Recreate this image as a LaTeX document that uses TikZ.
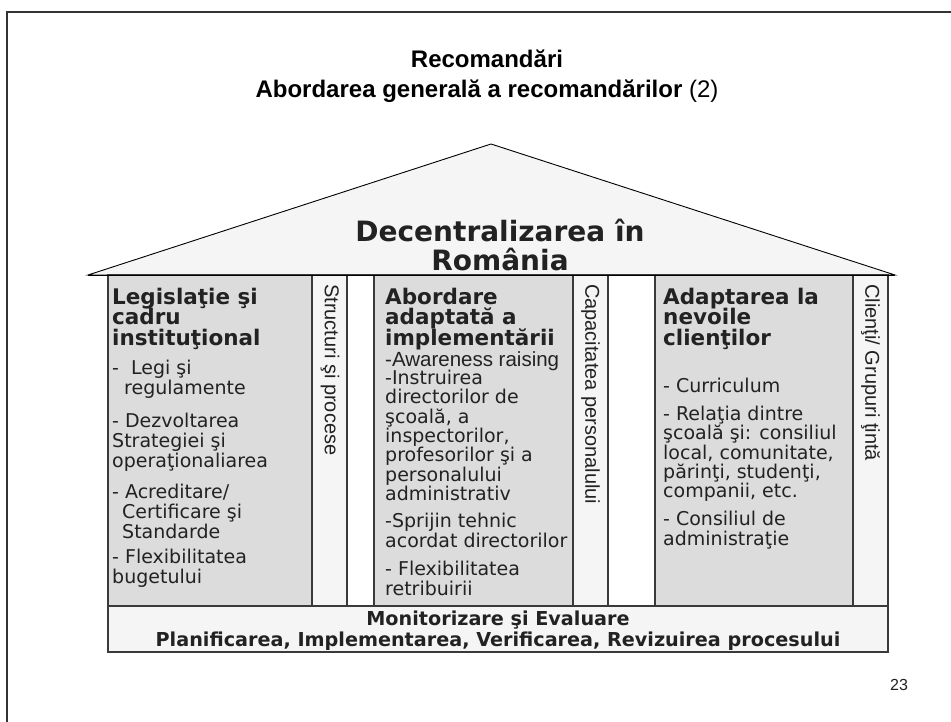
\documentclass[tikz,border=0pt]{standalone}
\usepackage{fontspec}
\setmainfont{DejaVu Sans}
\newfontfamily\arialf{Liberation Sans}
\definecolor{colgray}{HTML}{DCDCDC}
\definecolor{lightf}{HTML}{F5F5F5}
\definecolor{linec}{HTML}{3A3A3A}
\definecolor{txt}{HTML}{222222}
\definecolor{framec}{HTML}{333333}
\begin{document}
\setlength{\lineskiplimit}{-40pt}
\begin{tikzpicture}[x=1pt,y=-1pt,
  cell/.style={draw=linec, line width=1.1pt},
  headtxt/.style={anchor=north west, inner sep=0, align=left, text=txt,
    font=\fontsize{21.5}{20.5}\bfseries\selectfont},
  itemtxt/.style={anchor=north west, inner sep=0, align=left, text=txt,
    font=\fontsize{19}{20}\selectfont},
  itemtight/.style={itemtxt, font=\fontsize{19}{19.4}\selectfont},
  vtxt/.style={rotate=-90, anchor=west, inner sep=0, text=txt,
    font=\arialf\fontsize{20}{20}\selectfont},
  bartxt/.style={anchor=north, inner sep=0, align=center, text=txt,
    font=\fontsize{19.2}{21}\bfseries\selectfont},
  titletxt/.style={anchor=north, inner sep=0, align=center, text=black,
    font=\arialf\fontsize{24}{30}\bfseries\selectfont}
]
\useasboundingbox (0,0) rectangle (951,722);
\fill[white] (0,0) rectangle (951,722);
% slide frame
\draw[framec, line width=2.5pt] (7,740) -- (7,12) -- (970,12);

% title
\node[titletxt] (title) at (487,50) {\rule{0pt}{17pt}Recomandări\\Abordarea generală a recomandărilor {\mdseries(2)}};

% roof
\filldraw[fill=lightf, draw=black, line width=0.9pt] (88,275) -- (491,144) -- (895,275) -- cycle;
\node[anchor=north, inner sep=0, align=center, text=txt,
  font=\fontsize{28}{29}\bfseries\selectfont] (roof) at (500,219)
  {\rule{0pt}{22pt}Decentralizarea în\\România};

% columns
\filldraw[cell, fill=colgray] (108,275) rectangle (312,606);
\filldraw[cell, fill=lightf] (312,275) rectangle (347,606);
\filldraw[cell, fill=white] (347,275) rectangle (374,606);
\filldraw[cell, fill=colgray] (374,275) rectangle (573,606);
\filldraw[cell, fill=lightf] (573,275) rectangle (608,606);
\filldraw[cell, fill=white] (608,275) rectangle (655,606);
\filldraw[cell, fill=colgray] (655,275) rectangle (853,606);
\filldraw[cell, fill=lightf] (853,275) rectangle (888,606);
% bottom bar
\filldraw[cell, fill=lightf] (108,606) rectangle (888,652);
\draw[black, line width=0.9pt] (88,275) -- (895,275);

% vertical labels
\node[vtxt] (v1) at (330,284) {Structuri şi procese};
\node[vtxt] (v2) at (590.5,284) {Capacitatea personalului};
\node[vtxt] (v3) at (870.5,284) {Clienţi/ Grupuri ţintă};

% column 1
\node[headtxt] (h1) at (112,287) {\rule{0pt}{17pt}Legislaţie şi\\cadru\\instituţional};
\node[itemtxt] (a1) at (112,357) {\rule{0pt}{17pt}-~~Legi şi\\\hspace*{12pt}regulamente};
\node[itemtxt] (a2) at (112,410) {\rule{0pt}{17pt}- Dezvoltarea\\Strategiei şi\\operaţionaliarea};
\node[itemtxt] (a3) at (112,481) {\rule{0pt}{17pt}- Acreditare/\\\hspace*{10pt}Certificare şi\\\hspace*{10pt}Standarde};
\node[itemtxt] (a4) at (112,546) {\rule{0pt}{17pt}- Flexibilitatea\\bugetului};

% column 2
\node[headtxt] (h2) at (385,287) {\rule{0pt}{17pt}Abordare\\adaptată a\\implementării};
\node[anchor=base west, inner sep=0, text=txt, font=\arialf\fontsize{20.5}{21}\selectfont] (b0) at (385,366) {-Awareness raising};
\node[itemtight] (b1) at (385,367) {\rule{0pt}{17pt}-Instruirea\\directorilor de\\şcoală, a\\inspectorilor,\\profesorilor şi a\\personalului\\administrativ};
\node[itemtxt] (b2) at (385,510) {\rule{0pt}{17pt}-Sprijin tehnic\\acordat directorilor};
\node[itemtxt] (b3) at (385,558) {\rule{0pt}{17pt}- Flexibilitatea\\retribuirii};

% column 3
\node[headtxt] (h3) at (663,287) {\rule{0pt}{17pt}Adaptarea la\\nevoile\\clienţilor};
\node[itemtxt] (c1) at (663,375) {\rule{0pt}{17pt}- Curriculum};
\node[itemtight] (c2) at (663,403) {\rule{0pt}{17pt}- Relaţia dintre\\şcoală şi: consiliul\\local, comunitate,\\părinţi, studenţi,\\companii, etc.};
\node[itemtxt] (c3) at (663,508) {\rule{0pt}{17pt}- Consiliul de\\administraţie};

% bar text
\node[bartxt] (bar) at (498,608) {\rule{0pt}{17pt}Monitorizare şi Evaluare\\Planificarea, Implementarea, Verificarea, Revizuirea procesului};

% page number
\node[anchor=base, inner sep=0, font=\arialf\fontsize{16}{16}\selectfont, text=txt] (pg) at (899,690) {23};
\end{tikzpicture}
\end{document}
